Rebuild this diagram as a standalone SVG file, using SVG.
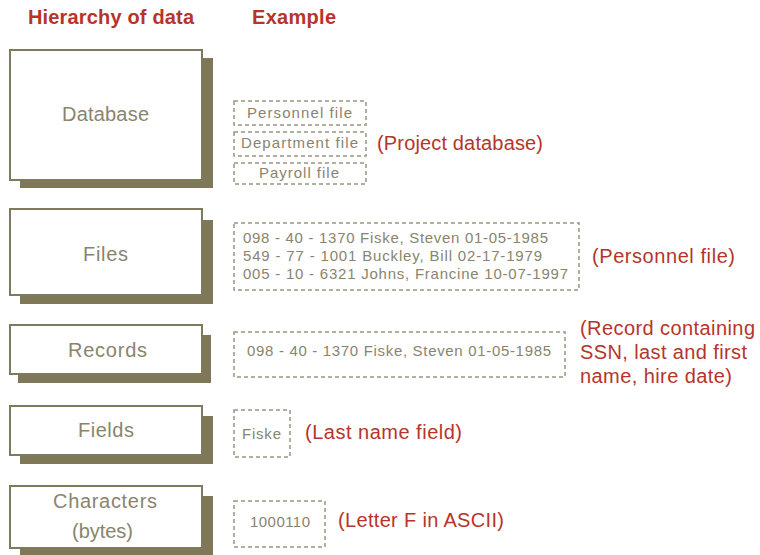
<svg xmlns="http://www.w3.org/2000/svg" width="760" height="555" viewBox="0 0 760 555">
<style>
.hdr{font-family:"Liberation Sans",Arial,sans-serif;font-weight:bold;font-size:20px;fill:#b5352b}
.box{fill:#fff;stroke:#807a5c;stroke-width:2}
.shd{fill:#7e7858}
.lbl{font-family:"Liberation Sans",Arial,sans-serif;font-size:20px;fill:#8a846e}
.dash{fill:none;stroke:#9a9580;stroke-width:1.5;stroke-dasharray:4,3}
.ex{font-family:"Liberation Sans",Arial,sans-serif;font-size:15px;fill:#8a846e}
.note{font-family:"Liberation Sans",Arial,sans-serif;font-size:20px;fill:#b5352b}
</style>
<rect width="760" height="555" fill="#fff"/>
<text class="hdr" x="28" y="24" textLength="166">Hierarchy of data</text>
<text class="hdr" x="252" y="24" textLength="84">Example</text>

<g id="database">
<rect class="shd" x="20" y="58" width="193" height="130"/>
<rect class="box" x="10" y="50" width="192" height="130"/>
<text class="lbl" x="62" y="121" textLength="87">Database</text>
</g>
<g id="files">
<rect class="shd" x="20" y="220" width="193" height="84"/>
<rect class="box" x="10" y="209" width="192" height="86"/>
<text class="lbl" x="83" y="261" textLength="45">Files</text>
</g>
<g id="records">
<rect class="shd" x="18" y="335" width="193" height="48"/>
<rect class="box" x="10" y="325" width="192" height="49"/>
<text class="lbl" x="68" y="357" textLength="79">Records</text>
</g>
<g id="fields">
<rect class="shd" x="20" y="416" width="193" height="48"/>
<rect class="box" x="10" y="406" width="192" height="49"/>
<text class="lbl" x="78" y="437" textLength="56">Fields</text>
</g>
<g id="characters">
<rect class="shd" x="20" y="496" width="193" height="59"/>
<rect class="box" x="10" y="486" width="192" height="62"/>
<text class="lbl" x="53" y="508" textLength="104">Characters</text>
<text class="lbl" x="72" y="538" textLength="61">(bytes)</text>
</g>

<g id="ex-database">
<rect class="dash" x="234" y="101" width="132" height="24"/>
<rect class="dash" x="234" y="132" width="132" height="24"/>
<rect class="dash" x="234" y="163" width="132" height="21"/>
<text class="ex" x="247" y="118" textLength="105">Personnel file</text>
<text class="ex" x="241" y="148" textLength="117">Department file</text>
<text class="ex" x="259" y="178" textLength="80">Payroll file</text>
<text class="note" x="377" y="150" textLength="166">(Project database)</text>
</g>
<g id="ex-files">
<rect class="dash" x="234" y="223" width="345" height="67"/>
<text class="ex" x="243" y="243" textLength="305">098 - 40 - 1370 Fiske, Steven 01-05-1985</text>
<text class="ex" x="243" y="261" textLength="299">549 - 77 - 1001 Buckley, Bill 02-17-1979</text>
<text class="ex" x="243" y="279" textLength="325">005 - 10 - 6321 Johns, Francine 10-07-1997</text>
<text class="note" x="592" y="263" textLength="143">(Personnel file)</text>
</g>
<g id="ex-records">
<rect class="dash" x="234" y="332" width="331" height="45"/>
<text class="ex" x="247" y="356" textLength="304">098 - 40 - 1370 Fiske, Steven 01-05-1985</text>
<text class="note" x="580" y="335" textLength="175">(Record containing</text>
<text class="note" x="580" y="359" textLength="167">SSN, last and first</text>
<text class="note" x="580" y="383" textLength="152">name, hire date)</text>
</g>
<g id="ex-fields">
<rect class="dash" x="234" y="410" width="56" height="47"/>
<text class="ex" x="242" y="439" textLength="39">Fiske</text>
<text class="note" x="305" y="439" textLength="157">(Last name field)</text>
</g>
<g id="ex-characters">
<rect class="dash" x="234" y="501" width="91" height="46"/>
<text class="ex" x="250" y="527" textLength="60">1000110</text>
<text class="note" x="338" y="527" textLength="166">(Letter F in ASCII)</text>
</g>
</svg>
